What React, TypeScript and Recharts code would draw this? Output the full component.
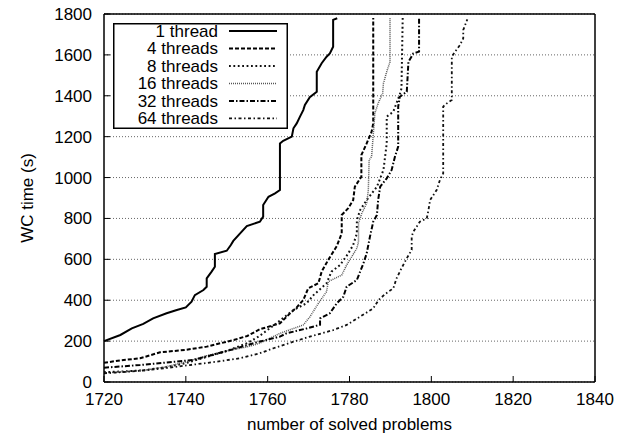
import { LineChart, Line, XAxis, YAxis, CartesianGrid } from 'recharts';

type Pt = [number, number];

const xTicks = [1720, 1740, 1760, 1780, 1800, 1820, 1840];
const yTicks = [0, 200, 400, 600, 800, 1000, 1200, 1400, 1600, 1800];

// [solved problems, wall clock seconds]
const thread1: Pt[] = [
  [1720, 200], [1724, 230], [1726.8, 262], [1729.6, 284], [1732, 311], [1735.3, 336],
  [1737.8, 352], [1740, 365], [1741.4, 393], [1742.2, 425], [1744.3, 450], [1745.1, 466],
  [1745.1, 507], [1746.3, 540], [1747.1, 564], [1747.1, 626], [1750, 642], [1751, 670],
  [1751.6, 690], [1754.9, 763], [1758.1, 784], [1758.9, 809], [1758.9, 866], [1760.2, 906],
  [1761.8, 923], [1763, 939], [1763, 1167], [1763.8, 1180], [1765.9, 1200], [1766.3, 1241],
  [1767.1, 1265], [1767.9, 1298], [1768.7, 1330], [1769.1, 1355], [1770.3, 1393], [1772, 1420],
  [1772, 1518], [1773.2, 1559], [1774.4, 1591], [1775.2, 1607], [1776, 1640], [1776, 1771],
  [1777, 1779],
];

const threads4: Pt[] = [
  [1720, 94], [1724, 106], [1728.8, 116], [1733.7, 145], [1740.2, 158], [1745.1, 173],
  [1751.6, 205], [1755, 225], [1758.1, 258], [1763, 287], [1765.5, 336], [1767.1, 365],
  [1768.7, 401], [1769.9, 458], [1772.4, 483], [1773.2, 540], [1774.8, 597], [1776.9, 665],
  [1778.1, 727], [1778.1, 817], [1779.7, 850], [1780.9, 890], [1781.3, 955], [1782.9, 1004],
  [1782.9, 1110], [1784.2, 1167], [1785.4, 1224], [1785.8, 1265], [1785.8, 1780],
];

const threads8: Pt[] = [
  [1720, 48], [1725, 52], [1730, 58], [1735, 72], [1740, 92], [1745, 122], [1750, 152],
  [1755, 190], [1758, 225], [1762, 285], [1766.3, 352], [1769.5, 385], [1771.2, 425],
  [1774.4, 483], [1775.6, 540], [1777.7, 572], [1779.7, 629], [1780.9, 670], [1781.8, 727],
  [1781.8, 792], [1782.6, 841], [1784.2, 890], [1786.7, 955], [1788.3, 1037], [1789.1, 1167],
  [1789.1, 1298], [1790.7, 1322], [1792.3, 1407], [1792.7, 1436], [1793, 1780],
];

const threads16: Pt[] = [
  [1720, 45], [1725, 50], [1730, 58], [1735, 74], [1740, 98], [1745, 128], [1750, 152],
  [1755, 172], [1758, 189], [1763, 238], [1768.7, 279], [1770.3, 318], [1772.4, 385],
  [1774.4, 442], [1774.8, 491], [1778.1, 523], [1779.3, 572], [1781.8, 654], [1782.2, 686],
  [1782.2, 776], [1783, 825], [1784.2, 874], [1784.6, 939], [1784.8, 1086], [1785.4, 1102],
  [1786.2, 1314], [1787, 1363], [1788.1, 1412], [1788.3, 1461], [1789.1, 1518], [1789.9, 1566],
  [1789.9, 1780],
];

const threads32: Pt[] = [
  [1720, 70], [1728.8, 83], [1735, 95], [1741.8, 108], [1746, 130], [1750.8, 156],
  [1757.5, 195], [1763, 222], [1764.6, 238], [1769.5, 262], [1772.8, 280], [1772.8, 311],
  [1775.2, 336], [1776.9, 385], [1778.5, 417], [1779.3, 466], [1781.8, 499], [1783.4, 580],
  [1784.2, 629], [1785, 711], [1785.8, 784], [1786.7, 817], [1787, 890], [1787.5, 955],
  [1789.1, 996], [1790.3, 1037], [1791.1, 1102], [1791.9, 1151], [1791.9, 1347], [1792.3, 1395],
  [1794, 1420], [1794.4, 1566], [1795.6, 1607], [1797, 1616], [1797, 1780],
];

const threads64: Pt[] = [
  [1720, 42], [1728.8, 55], [1735, 68], [1741, 83], [1747, 98], [1753.2, 116], [1758, 140],
  [1761.4, 165], [1766.3, 197], [1770.3, 222], [1776, 254], [1779.3, 279], [1782.6, 320],
  [1785.8, 360], [1787.1, 401], [1788.7, 430], [1790.7, 458], [1791.5, 507], [1792.7, 556],
  [1794, 605], [1795.2, 646], [1795.2, 711], [1795.6, 735], [1797.2, 784], [1798.9, 801],
  [1799.3, 841], [1799.7, 890], [1801.3, 939], [1802.1, 988], [1802.9, 1020], [1802.9, 1347],
  [1803.8, 1363], [1805, 1379], [1805, 1591], [1805.8, 1616], [1807, 1648], [1807.8, 1681],
  [1807.8, 1722], [1808.8, 1774],
];

const series = [
  { name: '1 thread', points: thread1, color: '#000', width: 2, dash: undefined },
  { name: '4 threads', points: threads4, color: '#000', width: 2, dash: '4 2' },
  { name: '8 threads', points: threads8, color: '#111', width: 2, dash: '1.8 2.6' },
  { name: '16 threads', points: threads16, color: '#555', width: 1.5, dash: '1 1' },
  { name: '32 threads', points: threads32, color: '#000', width: 2, dash: '5 2 1.5 2' },
  { name: '64 threads', points: threads64, color: '#111', width: 1.8, dash: '3 2.5 1.5 2.5' },
];

const FONT = '"Liberation Sans", Arial, Helvetica, sans-serif';

function toRows(points: Pt[]) {
  return points.map(([x, y]) => ({ x, y }));
}

function LegendBox() {
  return (
    <svg
      width={175}
      height={106}
      style={{ position: 'absolute', left: 113, top: 23, fontFamily: FONT }}
    >
      <rect x={0.75} y={0.75} width={173.5} height={104.5} fill="#fff" stroke="#000" strokeWidth={1.5} />
      {series.map((s, i) => (
        <g key={s.name}>
          <text x={105} y={13.7 + i * 17.47} textAnchor="end" fontSize={17} fill="#000">
            {s.name}
          </text>
          <line
            x1={116}
            x2={164}
            y1={8 + i * 17.47}
            y2={8 + i * 17.47}
            stroke={s.color}
            strokeWidth={s.width}
            strokeDasharray={s.dash}
          />
        </g>
      ))}
    </svg>
  );
}

export default function App() {
  const axisLine = { stroke: '#000', strokeWidth: 1.5 };
  const tickLine = { stroke: '#000', strokeWidth: 1 };
  return (
    <div style={{ position: 'absolute', left: 0, top: 0, width: 629, height: 434, background: '#fff' }}>
      <LineChart
        width={629}
        height={434}
        margin={{ top: 0, right: 0, bottom: 0, left: 0 }}
        style={{ fontFamily: FONT }}
      >
        <CartesianGrid vertical={false} stroke="#666" strokeDasharray="1 2" />
        <XAxis
          dataKey="x"
          type="number"
          domain={[1720, 1840]}
          ticks={xTicks}
          interval={0}
          height={52}
          tickSize={-6}
          tickMargin={17}
          axisLine={axisLine}
          tickLine={tickLine}
          tick={{ fill: '#000', fontSize: 17 }}
          label={{
            value: 'number of solved problems',
            position: 'insideBottom',
            offset: 4,
            fill: '#000',
            fontSize: 17,
          }}
        />
        <XAxis
          xAxisId="top"
          orientation="top"
          type="number"
          domain={[1720, 1840]}
          ticks={xTicks}
          interval={0}
          height={14}
          tickSize={-6}
          axisLine={axisLine}
          tickLine={tickLine}
          tick={false}
        />
        <YAxis
          type="number"
          domain={[0, 1800]}
          ticks={yTicks}
          interval={0}
          width={104}
          tickSize={-6}
          tickMargin={18}
          axisLine={axisLine}
          tickLine={tickLine}
          tick={{ fill: '#000', fontSize: 17 }}
          label={{
            value: 'WC time (s)',
            angle: -90,
            position: 'insideLeft',
            offset: 27,
            fill: '#000',
            fontSize: 17,
            style: { textAnchor: 'middle' },
          }}
        />
        <YAxis
          yAxisId="right"
          orientation="right"
          type="number"
          domain={[0, 1800]}
          ticks={yTicks}
          interval={0}
          width={34}
          tickSize={-6}
          axisLine={axisLine}
          tickLine={tickLine}
          tick={false}
        />
        {series.map((s) => (
          <Line
            key={s.name}
            name={s.name}
            data={toRows(s.points)}
            dataKey="y"
            type="linear"
            stroke={s.color}
            strokeWidth={s.width}
            strokeDasharray={s.dash}
            dot={false}
            activeDot={false}
            isAnimationActive={false}
          />
        ))}
      </LineChart>
      <LegendBox />
    </div>
  );
}
